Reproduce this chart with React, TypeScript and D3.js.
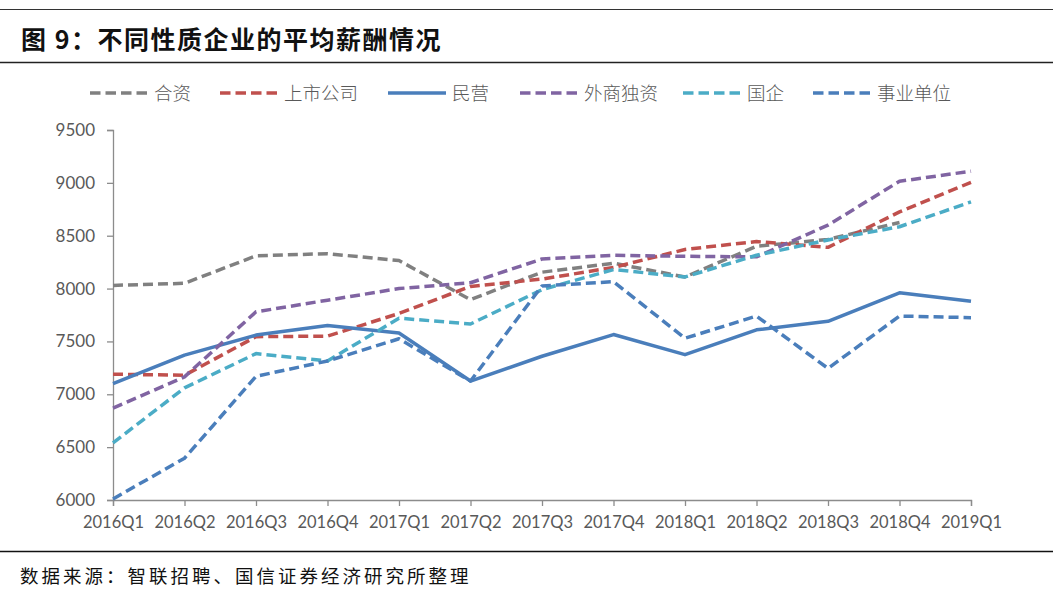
import { useEffect, useRef } from 'react'
import * as d3 from 'd3'

const quarters = ['2016Q1', '2016Q2', '2016Q3', '2016Q4', '2017Q1', '2017Q2', '2017Q3', '2017Q4', '2018Q1', '2018Q2', '2018Q3', '2018Q4', '2019Q1']

const jointVenture = [8030, 8050, 8310, 8330, 8265, 7895, 8155, 8240, 8110, 8400, 8465, 8625, null]
const listedCo = [7190, 7180, 7545, 7550, 7765, 8020, 8090, 8200, 8370, 8445, 8390, 8725, 9005]
const privateCo = [7100, 7370, 7560, 7650, 7580, 7125, 7360, 7565, 7375, 7610, 7690, 7960, 7880]
const foreignOwned = [6870, 7165, 7780, 7890, 8000, 8055, 8280, 8315, 8305, 8300, 8600, 9015, 9110]
const stateOwned = [6540, 7060, 7385, 7315, 7720, 7665, 7990, 8180, 8110, 8315, 8460, 8585, 8820]
const publicInst = [6010, 6395, 7170, 7315, 7525, 7125, 8025, 8065, 7530, 7740, 7245, 7740, 7725]

const yTicks = [6000, 6500, 7000, 7500, 8000, 8500, 9000, 9500]

const seriesNames = ['合资', '上市公司', '民营', '外商独资', '国企', '事业单位']
const seriesValues = [jointVenture, listedCo, privateCo, foreignOwned, stateOwned, publicInst]
const seriesColors = ['#808080', '#c0504d', '#4a7ebb', '#8064a2', '#4bacc6', '#4a7ebb']
const seriesDashed = [true, true, false, true, true, true]

// legend item left edges (line start)
const legendX = [90, 220, 388, 520, 683, 813]

export default function App() {
  const svgRef = useRef<SVGSVGElement>(null)

  useEffect(() => {
    if (!svgRef.current) return
    const width = 1053
    const height = 592
    const svg = d3.select(svgRef.current)
    svg.selectAll('*').remove()
    svg.attr('width', width).attr('height', height)

    const axisFont = 'Lato, "Open Sans", sans-serif'
    const cjkFont = '"Noto Sans CJK SC", sans-serif'

    svg.append('rect').attr('width', width).attr('height', height).attr('fill', '#fff')

    // header / footer rules
    svg.append('line').attr('x1', 0).attr('x2', width).attr('y1', 9.5).attr('y2', 9.5).attr('stroke', '#333').attr('stroke-width', 1)
    svg.append('line').attr('x1', 0).attr('x2', width).attr('y1', 62.5).attr('y2', 62.5).attr('stroke', '#222').attr('stroke-width', 1.3)
    svg.append('line').attr('x1', 0).attr('x2', width).attr('y1', 551.5).attr('y2', 551.5).attr('stroke', '#111').attr('stroke-width', 1.3)

    svg.append('text').attr('x', 21).attr('y', 49).attr('font-family', cjkFont).attr('font-weight', 700)
      .attr('font-size', '25px').attr('letter-spacing', '1.5px').attr('fill', '#111').text('图 9：不同性质企业的平均薪酬情况')

    svg.append('text').attr('x', 20).attr('y', 583).attr('font-family', cjkFont)
      .attr('font-size', '18.5px').attr('letter-spacing', '3px').attr('fill', '#111').text('数据来源：智联招聘、国信证券经济研究所整理')

    const m = { left: 113, right: 971, top: 130, bottom: 500 }
    const x = d3.scalePoint<string>().domain(quarters).range([m.left, m.right])
    const y = d3.scaleLinear().domain([6000, 9500]).range([m.bottom, m.top])

    // axes
    const axisColor = '#8c8c8c'
    const g = svg.append('g')
    g.append('g').attr('transform', `translate(${m.left},0)`)
      .call(d3.axisLeft(y).tickValues(yTicks).tickSize(6).tickPadding(12).tickFormat(d => String(d)))
      .call(ax => {
        ax.select('.domain').attr('stroke', axisColor).attr('stroke-width', 1.3)
        ax.selectAll('.tick line').attr('stroke', axisColor).attr('stroke-width', 1.3)
        ax.selectAll('.tick text').attr('fill', '#595959').attr('font-size', '17px').attr('font-family', axisFont)
      })
    g.append('g').attr('transform', `translate(0,${m.bottom})`)
      .call(d3.axisBottom(x).tickSize(6).tickPadding(10))
      .call(ax => {
        ax.select('.domain').attr('stroke', axisColor).attr('stroke-width', 1.3)
        ax.selectAll('.tick line').attr('stroke', axisColor).attr('stroke-width', 1.3)
        ax.selectAll('.tick text').attr('fill', '#595959').attr('font-size', '16.5px').attr('font-family', axisFont)
      })

    // series
    const line = d3.line<number | null>()
      .defined(d => d != null)
      .x((_, i) => x(quarters[i])!)
      .y(d => y(d as number))

    seriesValues.forEach((vals, i) => {
      svg.append('path').datum(vals)
        .attr('fill', 'none')
        .attr('stroke', seriesColors[i])
        .attr('stroke-width', 3.5)
        .attr('stroke-linejoin', 'round')
        .attr('stroke-dasharray', seriesDashed[i] ? '10,5' : null)
        .attr('d', line)
    })

    // legend
    const ly = 93
    seriesNames.forEach((name, i) => {
      const lx = legendX[i]
      svg.append('line').attr('x1', lx).attr('x2', lx + 58).attr('y1', ly).attr('y2', ly)
        .attr('stroke', seriesColors[i]).attr('stroke-width', 3.5)
        .attr('stroke-dasharray', seriesDashed[i] ? '10.5,5' : null)
      svg.append('text').attr('x', lx + 64).attr('y', ly + 7).attr('font-family', cjkFont)
        .attr('font-size', '18.5px').attr('font-weight', 300).attr('fill', '#595959').text(name)
    })
  }, [])

  return (
    <div style={{ position: 'absolute', left: 0, top: 0 }}>
      <svg ref={svgRef} style={{ display: 'block' }} />
    </div>
  )
}
